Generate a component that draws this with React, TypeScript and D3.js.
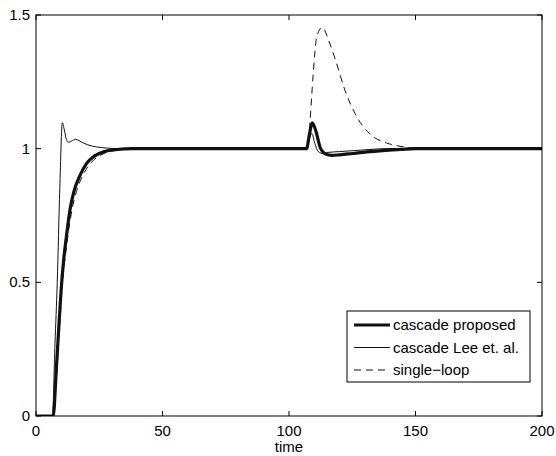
import React, { useEffect, useRef } from 'react';
import * as d3 from 'd3';

// step responses: [time, output]
const proposed: [number, number][] = [
  [0, 0], [6.8, 0], [8, 0.17], [9, 0.33], [10, 0.48], [11, 0.59], [12, 0.67],
  [13.4, 0.77], [15, 0.84], [17.4, 0.9], [20, 0.945], [23, 0.972], [27, 0.989],
  [32, 0.997], [38, 1], [107, 1], [108, 1.05], [109.2, 1.097], [110.5, 1.07],
  [112.5, 1.0], [114.5, 0.98], [116.9, 0.975], [120, 0.977], [125, 0.982],
  [130.7, 0.988], [137, 0.993], [144, 0.997], [150, 1], [200, 1],
];
const lee: [number, number][] = [
  [0, 0], [6.5, 0], [7.5, 0.27], [8.4, 0.5], [9.4, 0.85], [10.4, 1.097],
  [11.2, 1.07], [12, 1.035], [13, 1.024], [14, 1.028], [15.6, 1.035], [17, 1.03],
  [19, 1.02], [22, 1.01], [26, 1.004], [30, 1.001], [35, 1], [107, 1],
  [108, 1.035], [109, 1.057], [110.2, 1.02], [111.5, 0.99], [113.6, 0.981],
  [115.4, 0.986], [120, 0.989], [126, 0.993], [132, 0.997], [138, 1], [200, 1],
];
const single: [number, number][] = [
  [0, 0], [7, 0], [8, 0.13], [9, 0.29], [10.5, 0.5], [12, 0.63], [14.2, 0.77],
  [16, 0.84], [18.5, 0.9], [22, 0.95], [26, 0.978], [30, 0.992], [35, 0.998],
  [40, 1], [107.5, 1], [108.3, 1.1], [109.5, 1.27], [111, 1.42], [113.2, 1.454],
  [115.6, 1.406], [118.8, 1.319], [122.1, 1.219], [126.1, 1.131], [132, 1.055],
  [138.6, 1.021], [143.9, 1.009], [150, 1.002], [155, 1], [200, 1],
];

const xTicks = [0, 50, 100, 150, 200];
const yTicks = [0, 0.5, 1, 1.5];
const legendLabels = ['cascade proposed', 'cascade Lee et. al.', 'single\u2212loop'];

const App = () => {
  const svgRef = useRef<SVGSVGElement>(null);

  useEffect(() => {
    const width = 556;
    const height = 456;
    const margin = { top: 15, right: 14, bottom: 40, left: 36 };
    const font = 'Liberation Sans, Arial, sans-serif';
    const fs = 15;

    const svg = d3.select(svgRef.current)
      .attr('width', width)
      .attr('height', height)
      .style('background', '#ffffff');
    svg.selectAll('*').remove();

    const x = d3.scaleLinear().domain([0, 200]).range([margin.left, width - margin.right]);
    const y = d3.scaleLinear().domain([0, 1.5]).range([height - margin.bottom, margin.top]);

    svg.append('defs').append('clipPath').attr('id', 'plot')
      .append('rect')
      .attr('x', margin.left).attr('y', margin.top)
      .attr('width', x(200) - x(0)).attr('height', y(0) - y(1.5));

    const line = d3.line<[number, number]>()
      .x(d => x(d[0]))
      .y(d => y(d[1]))
      .curve(d3.curveMonotoneX);

    const g = svg.append('g').attr('clip-path', 'url(#plot)');

    g.append('path').datum(single)
      .attr('fill', 'none').attr('stroke', '#111').attr('stroke-width', 1)
      .attr('stroke-dasharray', '7,5').attr('d', line);
    g.append('path').datum(lee)
      .attr('fill', 'none').attr('stroke', '#111').attr('stroke-width', 1)
      .attr('d', line);
    g.append('path').datum(proposed)
      .attr('fill', 'none').attr('stroke', '#111').attr('stroke-width', 3.2)
      .attr('d', line);

    // axes box, ticks inside (MATLAB style)
    svg.append('rect')
      .attr('x', x(0)).attr('y', y(1.5))
      .attr('width', x(200) - x(0)).attr('height', y(0) - y(1.5))
      .attr('fill', 'none').attr('stroke', '#000').attr('stroke-width', 1);

    const tickLen = 5;
    xTicks.forEach(t => {
      svg.append('line').attr('x1', x(t)).attr('x2', x(t))
        .attr('y1', y(0)).attr('y2', y(0) - tickLen).attr('stroke', '#000');
      svg.append('line').attr('x1', x(t)).attr('x2', x(t))
        .attr('y1', y(1.5)).attr('y2', y(1.5) + tickLen).attr('stroke', '#000');
      svg.append('text').attr('x', x(t)).attr('y', y(0) + 20)
        .attr('text-anchor', 'middle').attr('font-family', font).attr('font-size', fs)
        .text(String(t));
    });
    yTicks.forEach(t => {
      svg.append('line').attr('x1', x(0)).attr('x2', x(0) + tickLen)
        .attr('y1', y(t)).attr('y2', y(t)).attr('stroke', '#000');
      svg.append('line').attr('x1', x(200)).attr('x2', x(200) - tickLen)
        .attr('y1', y(t)).attr('y2', y(t)).attr('stroke', '#000');
      svg.append('text').attr('x', x(0) - 6).attr('y', y(t) + 5)
        .attr('text-anchor', 'end').attr('font-family', font).attr('font-size', fs)
        .text(String(t));
    });

    svg.append('text').attr('x', (x(0) + x(200)) / 2).attr('y', height - 4)
      .attr('text-anchor', 'middle').attr('font-family', font).attr('font-size', fs)
      .text('time');

    // legend
    const lg = svg.append('g').attr('transform', 'translate(347,311)');
    lg.append('rect').attr('width', 183).attr('height', 71)
      .attr('fill', '#fff').attr('stroke', '#000').attr('stroke-width', 1);
    const styles = [
      { w: 3.2, dash: null },
      { w: 1, dash: null },
      { w: 1, dash: '7,5' },
    ];
    legendLabels.forEach((label, i) => {
      const yy = 14 + i * 22.5;
      lg.append('line').attr('x1', 7).attr('x2', 43).attr('y1', yy).attr('y2', yy)
        .attr('stroke', '#111').attr('stroke-width', styles[i].w)
        .attr('stroke-dasharray', styles[i].dash);
      lg.append('text').attr('x', 46).attr('y', yy + 5)
        .attr('font-family', font).attr('font-size', fs)
        .text(label);
    });
  }, []);

  return <svg ref={svgRef} style={{ display: 'block', position: 'absolute', left: 0, top: 0 }}></svg>;
};

export default App;
